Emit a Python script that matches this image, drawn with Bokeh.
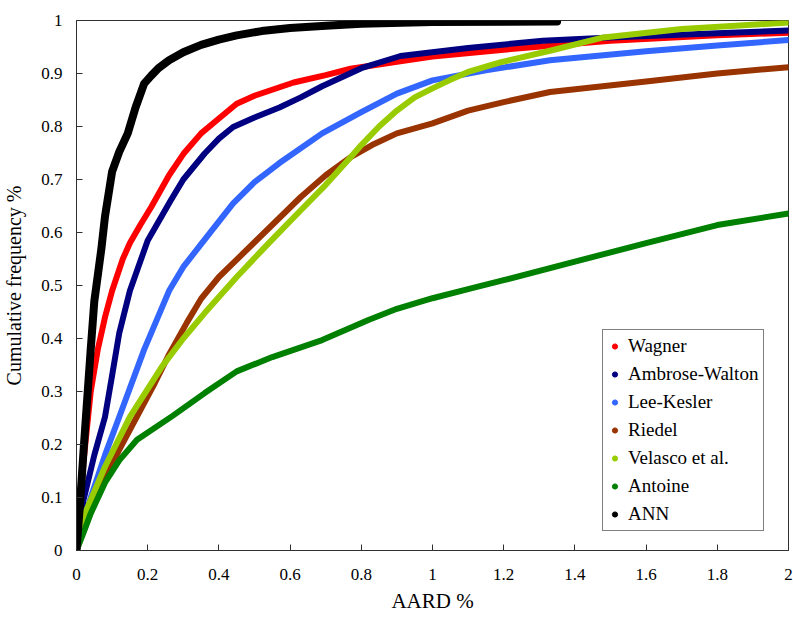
from bokeh.plotting import figure
from bokeh.models import Range1d, FixedTicker, Legend, LegendItem, ColumnDataSource
from bokeh.embed import file_html
from bokeh.resources import INLINE

# ---- data ----
x_ticks = [0, 0.2, 0.4, 0.6, 0.8, 1.0, 1.2, 1.4, 1.6, 1.8, 2.0]
x_tick_labels = ["0", "0.2", "0.4", "0.6", "0.8", "1", "1.2", "1.4", "1.6", "1.8", "2"]
y_ticks = [0, 0.1, 0.2, 0.3, 0.4, 0.5, 0.6, 0.7, 0.8, 0.9, 1.0]
y_tick_labels = ["0", "0.1", "0.2", "0.3", "0.4", "0.5", "0.6", "0.7", "0.8", "0.9", "1"]

wagner_x = [0, 0.02, 0.04, 0.06, 0.08, 0.10, 0.13, 0.15, 0.18, 0.21, 0.26, 0.30, 0.35, 0.40, 0.45, 0.50, 0.61, 0.70, 0.77, 0.9, 1.0, 1.2, 1.5, 1.8, 2.0]
wagner_y = [0, 0.17, 0.30, 0.38, 0.44, 0.49, 0.55, 0.58, 0.615, 0.648, 0.708, 0.748, 0.787, 0.815, 0.843, 0.858, 0.883, 0.897, 0.909, 0.922, 0.932, 0.945, 0.962, 0.972, 0.977]

ambrose_x = [0, 0.02, 0.05, 0.08, 0.10, 0.12, 0.15, 0.2, 0.265, 0.30, 0.36, 0.40, 0.44, 0.50, 0.57, 0.63, 0.69, 0.8, 0.91, 1.1, 1.31, 1.5, 1.8, 2.0]
ambrose_y = [0, 0.096, 0.18, 0.252, 0.33, 0.41, 0.49, 0.585, 0.661, 0.70, 0.749, 0.777, 0.799, 0.817, 0.836, 0.855, 0.876, 0.91, 0.933, 0.948, 0.962, 0.968, 0.976, 0.981]

lee_x = [0, 0.04, 0.08, 0.12, 0.19, 0.26, 0.30, 0.35, 0.44, 0.50, 0.57, 0.69, 0.8, 0.9, 1.0, 1.15, 1.33, 1.6, 1.8, 2.0]
lee_y = [0, 0.1, 0.18, 0.252, 0.379, 0.49, 0.535, 0.578, 0.655, 0.695, 0.731, 0.787, 0.827, 0.862, 0.887, 0.906, 0.925, 0.942, 0.953, 0.963]

riedel_x = [0, 0.04, 0.12, 0.22, 0.26, 0.31, 0.35, 0.40, 0.49, 0.63, 0.70, 0.77, 0.83, 0.9, 1.0, 1.1, 1.2, 1.33, 1.6, 1.8, 2.0]
riedel_y = [0, 0.077, 0.19, 0.316, 0.37, 0.43, 0.475, 0.516, 0.575, 0.667, 0.708, 0.742, 0.765, 0.787, 0.806, 0.83, 0.846, 0.865, 0.885, 0.9, 0.912]

velasco_x = [0, 0.02, 0.08, 0.15, 0.24, 0.30, 0.36, 0.45, 0.54, 0.63, 0.70, 0.77, 0.8, 0.85, 0.9, 0.95, 1.0, 1.05, 1.1, 1.19, 1.33, 1.48, 1.7, 2.0]
velasco_y = [0, 0.064, 0.158, 0.252, 0.347, 0.40, 0.448, 0.516, 0.58, 0.642, 0.69, 0.742, 0.765, 0.80, 0.83, 0.855, 0.872, 0.888, 0.903, 0.921, 0.943, 0.968, 0.984, 0.996]

antoine_x = [0, 0.02, 0.04, 0.08, 0.12, 0.17, 0.27, 0.36, 0.45, 0.55, 0.69, 0.82, 0.9, 1.0, 1.1, 1.2, 1.4, 1.6, 1.8, 2.0]
antoine_y = [0, 0.034, 0.07, 0.128, 0.17, 0.209, 0.254, 0.297, 0.338, 0.365, 0.397, 0.435, 0.456, 0.476, 0.493, 0.51, 0.545, 0.58, 0.614, 0.636]

ann_x = [0, 0.01, 0.02, 0.04, 0.05, 0.07, 0.08, 0.10, 0.12, 0.144, 0.166, 0.19, 0.21, 0.23, 0.26, 0.30, 0.35, 0.40, 0.45, 0.52, 0.6, 0.7, 0.8, 1.0, 1.35]
ann_y = [0, 0.09, 0.19, 0.38, 0.47, 0.57, 0.63, 0.715, 0.752, 0.787, 0.836, 0.881, 0.896, 0.91, 0.925, 0.94, 0.954, 0.964, 0.972, 0.98, 0.986, 0.99, 0.994, 0.997, 0.998]

series_names = ["Wagner", "Ambrose-Walton", "Lee-Kesler", "Riedel", "Velasco et al.", "Antoine", "ANN"]
series_x = [wagner_x, ambrose_x, lee_x, riedel_x, velasco_x, antoine_x, ann_x]
series_y = [wagner_y, ambrose_y, lee_y, riedel_y, velasco_y, antoine_y, ann_y]
series_colors = ["#FF0000", "#000080", "#3366FF", "#993300", "#99CC00", "#008000", "#000000"]
series_widths = [6, 6, 6, 6, 6, 6, 8]

SERIF = "Liberation Serif"

p = figure(width=793, height=618, output_backend="svg", toolbar_location=None,
           x_range=Range1d(0, 2), y_range=Range1d(0, 1),
           min_border_left=76, min_border_right=5, min_border_top=20, min_border_bottom=68)

p.xgrid.visible = False
p.ygrid.visible = False
p.outline_line_color = "#303030"
p.outline_line_width = 1
p.background_fill_color = "white"
p.border_fill_color = "white"

for ax, ticks, labels in ((p.xaxis[0], x_ticks, x_tick_labels), (p.yaxis[0], y_ticks, y_tick_labels)):
    ax.ticker = FixedTicker(ticks=ticks)
    ax.major_label_overrides = {t: l for t, l in zip(ticks, labels)}
    ax.major_tick_in = 6
    ax.major_tick_out = 0
    ax.minor_tick_line_color = None
    ax.axis_line_color = "#303030"
    ax.major_tick_line_color = "#303030"
    ax.major_label_text_font = SERIF
    ax.major_label_text_font_size = "17px"
    ax.major_label_text_color = "black"
    ax.axis_label_text_font = SERIF
    ax.axis_label_text_font_style = "normal"
    ax.axis_label_text_color = "black"

p.xaxis.axis_label = "AARD %"
p.yaxis.axis_label = "Cumulative frequency %"
p.xaxis.axis_label_text_font_size = "21px"
p.yaxis.axis_label_text_font_size = "20px"
p.xaxis.major_label_standoff = 18
p.yaxis.major_label_standoff = 14
p.xaxis.axis_label_standoff = 6
p.yaxis.axis_label_standoff = 13

items = []
for name, xs, ys, c, w in zip(series_names, series_x, series_y, series_colors, series_widths):
    src = ColumnDataSource(dict(x=xs, y=ys))
    p.line("x", "y", source=src, line_color=c, line_width=w, line_join="round", line_cap="round")
    # zero-size markers sharing the series data: they only supply the legend dot
    r = p.scatter("x", "y", source=src, marker="circle", size=0, fill_color=c, line_color=c)
    items.append(LegendItem(label=name, renderers=[r]))

legend = Legend(items=items, location=(526, 19))
legend.label_text_font = SERIF
legend.label_text_font_size = "19px"
legend.label_text_color = "black"
legend.border_line_color = "black"
legend.border_line_width = 1
legend.background_fill_alpha = 1
legend.glyph_width = 13
legend.glyph_height = 20
legend.label_height = 20
legend.spacing = 6
legend.padding = 5
legend.label_standoff = 7
p.add_layout(legend, "center")

open("out.html", "w").write(file_html(p, INLINE))
